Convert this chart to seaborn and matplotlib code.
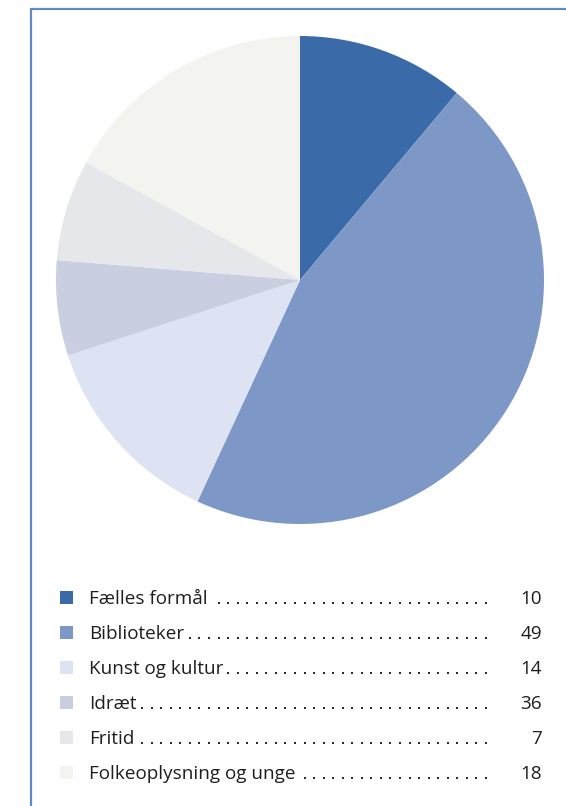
import matplotlib
matplotlib.use("Agg")
import matplotlib.pyplot as plt
import seaborn as sns
from matplotlib.lines import Line2D

# categories and values as printed in the legend
categories = ["Fælles formål", "Biblioteker", "Kunst og kultur", "Idræt",
              "Fritid", "Folkeoplysning og unge"]
legend_values = ["10", "49", "14", "36", "7", "18"]
# slice sizes (percent)
pie_shares = [11.1, 45.8, 13.1, 6.3, 6.7, 17.0]
colors = ["#3a6ba8", "#7d98c6", "#dde3f3", "#c9cee0", "#e6e7eb", "#f3f4ef"]

sns.set_theme(style="white")
plt.rcParams["font.family"] = ["Open Sans", "DejaVu Sans"]

W, H = 566, 806
fig = plt.figure(figsize=(W / 100, H / 100), dpi=100)

# pie axes: centre (300, 280), radius 244 px
cx, cy, r = 300, 280, 244
ax = fig.add_axes([(cx - r) / W, (H - cy - r) / H, 2 * r / W, 2 * r / H])
ax.pie(pie_shares, colors=colors, startangle=90, counterclock=False,
       radius=1, wedgeprops=dict(linewidth=0))
ax.set_xlim(-1, 1)
ax.set_ylim(-1, 1)
ax.set_aspect("equal")
ax.axis("off")

# overlay axes in pixel coordinates for the legend
lg = fig.add_axes([0, 0, 1, 1], facecolor="none")
lg.set_xlim(0, W)
lg.set_ylim(H, 0)
lg.axis("off")

# frame lines (top and left)
fig.add_artist(Line2D([30.5 / W, 1], [1 - 8.5 / H, 1 - 8.5 / H],
                      color="#6189c4", lw=1.6, transform=fig.transFigure))
fig.add_artist(Line2D([30.5 / W, 30.5 / W], [0, 1 - 8.5 / H],
                      color="#6189c4", lw=1.6, transform=fig.transFigure))

row_y = [597.5 + 35 * i for i in range(len(categories))]
lg.scatter([66.5] * len(categories), row_y, marker="s", s=88,
           c=colors, linewidths=0)

fig.canvas.draw()
renderer = fig.canvas.get_renderer()
dot_step = 9.55
dot_last = 486
for y, name, val in zip(row_y, categories, legend_values):
    t = lg.text(89, y - 0.5, name, fontsize=13.6, color="#1e1e1e",
                va="center_baseline")
    lg.text(542, y - 0.5, val, fontsize=13.6, color="#1e1e1e", ha="right",
            va="center_baseline")
    bb = t.get_window_extent(renderer=renderer)
    end_x = bb.x1 + 4
    xs = []
    x = dot_last
    while x > end_x:
        xs.append(x)
        x -= dot_step
    lg.scatter(xs, [y + 5] * len(xs), marker="s", s=2.6, color="#2a2a2a",
               linewidths=0)

fig.savefig("out.png", dpi=100)
